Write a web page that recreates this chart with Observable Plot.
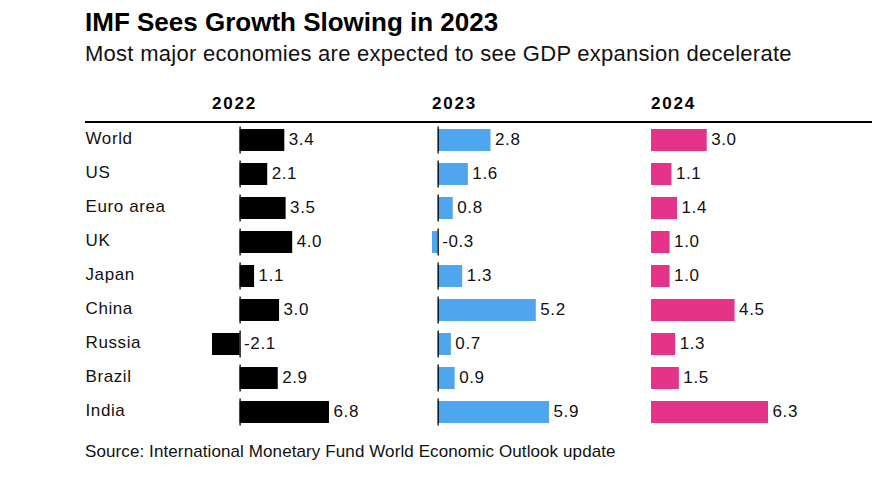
<!DOCTYPE html>
<html>
<head>
<meta charset="utf-8">
<script src="https://cdn.jsdelivr.net/npm/d3@7"></script>
<script src="https://cdn.jsdelivr.net/npm/@observablehq/plot@0.6"></script>
<style>
  html, body { margin: 0; padding: 0; background: #fff; }
  body { width: 883px; height: 487px; position: relative; overflow: hidden;
         font-family: "Liberation Sans", Arial, Helvetica, sans-serif; color: #111; }
  .abs { position: absolute; white-space: nowrap; line-height: 1; }
  #title { left: 85px; top: 9px; font-size: 26px; font-weight: bold; color: #000; }
  #subtitle { left: 85px; top: 43px; font-size: 22px; color: #111; letter-spacing: 0.27px; }
  .hdr { top: 95px; font-size: 17px; font-weight: bold; color: #000; letter-spacing: 1.8px; }
  #hline { position: absolute; left: 85px; top: 121px; width: 787px; height: 2px; background: #000; }
  #source { left: 85px; top: 443px; font-size: 17px; color: #111; letter-spacing: 0.1px; }
  .panel { position: absolute; top: 123px; }
  .panel svg { overflow: visible; }
</style>
</head>
<body>
<div id="title" class="abs">IMF Sees Growth Slowing in 2023</div>
<div id="subtitle" class="abs">Most major economies are expected to see GDP expansion decelerate</div>
<div id="hline"></div>
<div id="source" class="abs">Source: International Monetary Fund World Economic Outlook update</div>
<script>
const countries = ["World", "US", "Euro area", "UK", "Japan", "China", "Russia", "Brazil", "India"];
const years = ["2022", "2023", "2024"];
const growth2022 = [3.4, 2.1, 3.5, 4.0, 1.1, 3.0, -2.1, 2.9, 6.8];
const growth2023 = [2.8, 1.6, 0.8, -0.3, 1.3, 5.2, 0.7, 0.9, 5.9];
const growth2024 = [3.0, 1.1, 1.4, 1.0, 1.0, 4.5, 1.3, 1.5, 6.3];
const colors = ["#000000", "#4fa6ef", "#e5338a"];

const series = [growth2022, growth2023, growth2024];
const panelLefts = [212, 432, 651];
const barSpan = 117;
const rowStep = 34;
const fmt = d => d.toFixed(1);
const font = "'Liberation Sans', Arial, Helvetica, sans-serif";

series.forEach((vals, i) => {
  const data = countries.map((c, j) => ({country: c, value: vals[j]}));
  const lo = Math.min(0, d3.min(vals));
  const hi = d3.max(vals);
  const first = i === 0;
  const marginLeft = first ? 127 : 0;
  const marginRight = 90;
  const marks = [
    Plot.barX(data, {x: "value", y: "country", fill: colors[i], insetTop: 6, insetBottom: 6})
  ];
  if (lo < 0) {
    marks.push(Plot.tickX(data, {x: () => 0, y: "country", stroke: "#000", strokeWidth: 1.3, insetTop: 3.5, insetBottom: 3.5}));
  }
  marks.push(Plot.text(data, {
    x: d => Math.max(0, d.value), y: "country", text: d => fmt(d.value),
    textAnchor: "start", dx: 4, dy: -1, fontSize: 17, fill: "#111"
  }));
  if (first) {
    marks.push(Plot.text(data, {
      y: "country", text: "country", frameAnchor: "left", dx: -127, dy: -2,
      textAnchor: "start", fontSize: 17, fill: "#111"
    }));
  }
  const chart = Plot.plot({
    width: marginLeft + barSpan + marginRight,
    height: rowStep * countries.length,
    marginTop: 0, marginBottom: 0, marginLeft, marginRight,
    x: {domain: [lo, hi], axis: null},
    y: {domain: countries, padding: 0, axis: null},
    style: {fontFamily: font, fontSize: "17px", background: "transparent", overflow: "visible", letterSpacing: "0.6px"},
    marks
  });
  const div = document.createElement("div");
  div.className = "panel";
  div.style.left = (panelLefts[i] - marginLeft) + "px";
  div.appendChild(chart);
  document.body.appendChild(div);

  const h = document.createElement("div");
  h.className = "abs hdr";
  h.style.left = panelLefts[i] + "px";
  h.textContent = years[i];
  document.body.appendChild(h);
});
</script>
</body>
</html>
